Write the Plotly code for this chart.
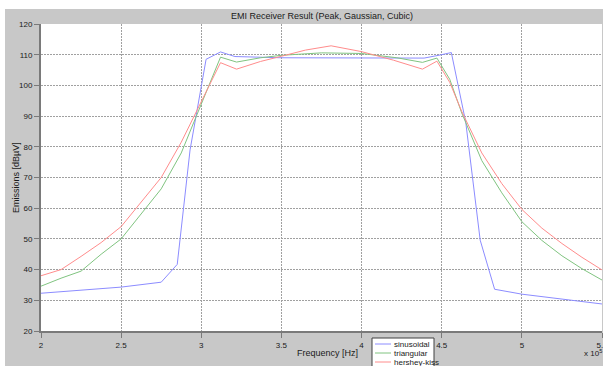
import plotly.graph_objects as go

# Frequencies in Hz
sin_freq = [200000, 250000, 275000, 285000, 293000, 303000, 312000, 321000, 350000, 400000,
            439000, 449000, 456000, 465000, 474000, 483000, 500000, 550000]
sin_vals = [32.3, 34.3, 35.9, 41.7, 79.0, 108.5, 110.9, 109.4, 109.0, 109.0,
            108.9, 109.9, 110.7, 88.0, 49.6, 33.6, 32.0, 28.8]

tri_freq = [200000, 212500, 225000, 237500, 250000, 262500, 275000, 287500, 300000, 312000,
            322000, 337000, 350000, 375000, 400000, 422000, 438000, 447000, 455000, 462500,
            475000, 487500, 500000, 512500, 525000, 537500, 550000]
tri_vals = [34.6, 37.2, 39.5, 45.0, 50.0, 58.0, 66.3, 78.0, 94.0, 109.2,
            107.6, 109.0, 109.8, 110.6, 110.4, 109.0, 107.5, 108.9, 102.0, 91.0,
            75.5, 65.0, 55.6, 49.5, 44.5, 40.3, 36.6]

hk_freq = [200000, 212500, 225000, 237500, 250000, 262500, 275000, 287500, 300000, 312000,
           322000, 337000, 350000, 365000, 381000, 400000, 420000, 438000, 447000, 455000,
           462500, 475000, 487500, 500000, 512500, 525000, 537500, 550000]
hk_vals = [38.0, 40.0, 44.3, 48.8, 54.0, 62.0, 70.0, 81.5, 95.0, 107.4,
           105.3, 107.8, 109.5, 111.5, 112.9, 111.0, 108.2, 105.3, 107.9, 101.0,
           91.5, 78.0, 68.0, 59.6, 53.5, 48.5, 44.0, 39.9]

series_names = ["sinusoidal", "triangular", "hershey-kiss"]
series_colors = ["#8c8cff", "#80c480", "#ff8c8c"]

x_tick_vals = [200000, 250000, 300000, 350000, 400000, 450000, 500000, 550000]
x_tick_text = ["2", "2.5", "3", "3.5", "4", "4.5", "5", "5.5"]
y_tick_vals = [20, 30, 40, 50, 60, 70, 80, 90, 100, 110, 120]

FONT = "Liberation Sans, Arial, sans-serif"
TXT = "#1a1a1a"

fig = go.Figure()
for fx, fy, name, col in zip([sin_freq, tri_freq, hk_freq], [sin_vals, tri_vals, hk_vals],
                             series_names, series_colors):
    fig.add_trace(go.Scatter(x=fx, y=fy, mode="lines", name=name,
                             line=dict(color=col, width=1), showlegend=False))

# plot area pixel geometry
L, R, T, B = 41, 602, 24, 331
W, H = R - L, B - T
def px(x):
    return (x - L) / W
def py(y):
    return (B - y) / H

shapes = [
    # white margins top/left
    dict(type="rect", xref="paper", yref="paper", x0=px(0), x1=px(5), y0=py(366), y1=py(0),
         fillcolor="white", line=dict(width=0), layer="below"),
    dict(type="rect", xref="paper", yref="paper", x0=px(0), x1=px(603), y0=py(9), y1=py(0),
         fillcolor="white", line=dict(width=0), layer="below"),
    # legend box
    dict(type="rect", xref="paper", yref="paper", x0=px(372), x1=px(434), y0=py(338), y1=py(369),
         fillcolor="white", line=dict(color="#404040", width=1), layer="above"),
]
annotations = [
    dict(text="EMI Receiver Result (Peak, Gaussian, Cubic)", x=0.5, y=py(16), xref="paper", yref="paper",
         showarrow=False, xanchor="center", yanchor="middle", font=dict(size=9, color=TXT, family=FONT)),
    dict(text="Frequency [Hz]", x=px(327.5), y=py(353), xref="paper", yref="paper",
         showarrow=False, xanchor="center", yanchor="middle", font=dict(size=9, color=TXT, family=FONT)),
    dict(text="Emissions [dBµV]", x=px(16), y=py(178), xref="paper", yref="paper", textangle=-90,
         showarrow=False, xanchor="center", yanchor="middle", font=dict(size=9, color=TXT, family=FONT)),
    dict(text="x 10<sup>5</sup>", x=px(604), y=py(353), xref="paper", yref="paper",
         showarrow=False, xanchor="right", yanchor="middle", font=dict(size=8, color=TXT, family=FONT)),
]
item_y = [344, 353, 362]
for name, col, yy in zip(series_names, series_colors, item_y):
    shapes.append(dict(type="line", xref="paper", yref="paper", x0=px(375), x1=px(391),
                       y0=py(yy), y1=py(yy), line=dict(color=col, width=1), layer="above"))
    annotations.append(dict(text=name, x=px(392), y=py(yy), xref="paper", yref="paper",
                            showarrow=False, xanchor="left", yanchor="middle",
                            font=dict(size=8, color=TXT, family=FONT)))

fig.update_layout(
    width=603, height=366,
    margin=dict(l=L, r=603 - R, t=T, b=366 - B, pad=0, autoexpand=False),
    paper_bgcolor="#c8c8c8", plot_bgcolor="white",
    shapes=shapes, annotations=annotations, showlegend=False,
    font=dict(family=FONT, size=8, color=TXT),
)
GRID = dict(showgrid=True, gridcolor="#a0a0a0", griddash="2px,1px", gridwidth=1,
            showline=True, linecolor="#7a7a7a", linewidth=2, ticks="outside", ticklen=5,
            tickcolor="#7a7a7a", zeroline=False, tickfont=dict(size=8, color=TXT),
            ticklabeloverflow="allow", automargin=False)
fig.update_xaxes(range=[200000, 550000], tickvals=x_tick_vals, ticktext=x_tick_text, **GRID)
fig.update_yaxes(range=[20, 120], tickvals=y_tick_vals, **GRID)

fig.write_html("out.html", config={"displayModeBar": False},
               post_script="document.body.style.margin='0';document.body.style.overflow='hidden';")
